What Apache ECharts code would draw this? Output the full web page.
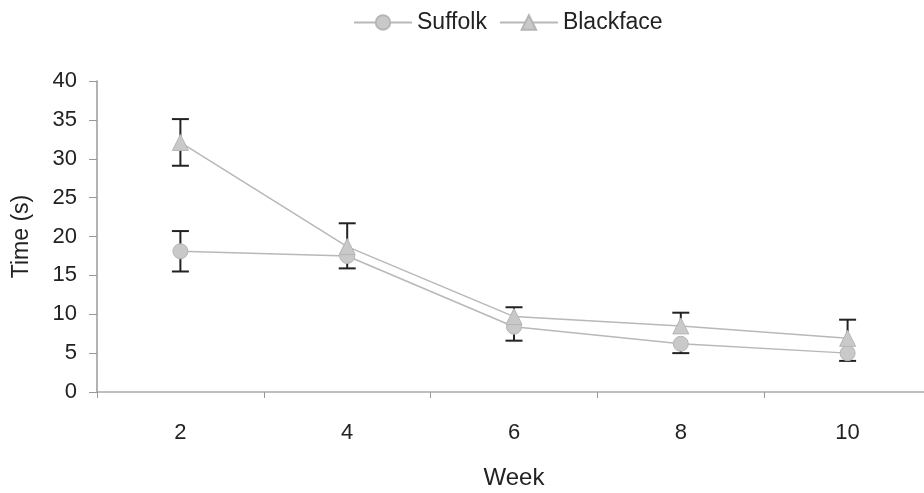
<!DOCTYPE html>
<html>
<head>
<meta charset="utf-8">
<script src="https://cdn.jsdelivr.net/npm/echarts@6/dist/echarts.min.js"></script>
<style>html,body{margin:0;padding:0;background:#fff;}#c{width:924px;height:493px;}</style>
</head>
<body>
<div id="c"></div>
<script>
const weeks = ['2', '4', '6', '8', '10'];
const suffolk = [18.1, 17.5, 8.4, 6.2, 5.0];
// visible error bar extents (null = hidden behind markers in the reference)
const suffolkErrUp = [2.6, null, null, null, null];
const suffolkErrDown = [2.6, 1.6, 1.8, 1.2, 1.0];
const blackface = [32.1, 18.7, 9.7, 8.5, 6.9];
const blackfaceErrUp = [3.0, 3.0, 1.2, 1.7, 2.4];
const blackfaceErrDown = [3.0, null, null, null, null];
const yTicks = [0, 5, 10, 15, 20, 25, 30, 35, 40];

const FONT = '"Liberation Sans", Arial, sans-serif';
const chart = echarts.init(document.getElementById('c'));

function errData(means, up, down) {
  return means.map((m, i) => [i, m, up[i] == null ? -1 : up[i], down[i] == null ? -1 : down[i]]);
}
function renderErr(params, api) {
  const i = api.value(0), m = api.value(1), eu = api.value(2), ed = api.value(3);
  const hw = 8.5;
  const style = { stroke: '#222', lineWidth: 2 };
  const center = api.coord([i, m]);
  const children = [];
  if (eu >= 0) {
    const top = api.coord([i, m + eu]);
    children.push({ type: 'line', shape: { x1: top[0], y1: top[1], x2: center[0], y2: center[1] }, style });
    children.push({ type: 'line', shape: { x1: top[0] - hw, y1: top[1], x2: top[0] + hw, y2: top[1] }, style });
  }
  if (ed >= 0) {
    const bot = api.coord([i, m - ed]);
    children.push({ type: 'line', shape: { x1: bot[0], y1: bot[1], x2: center[0], y2: center[1] }, style });
    children.push({ type: 'line', shape: { x1: bot[0] - hw, y1: bot[1], x2: bot[0] + hw, y2: bot[1] }, style });
  }
  return { type: 'group', children };
}

chart.setOption({
  animation: false,
  backgroundColor: '#fff',
  legend: {
    data: ['Suffolk', 'Blackface'],
    left: 348, top: 6,
    itemWidth: 58, itemHeight: 18, itemGap: 12,
    textStyle: { fontFamily: FONT, fontSize: 23, color: '#222' }
  },
  grid: { left: 97, top: 81, width: 834, height: 311, outerBoundsMode: 'none' },
  xAxis: {
    type: 'category',
    data: weeks,
    boundaryGap: true,
    name: 'Week',
    nameLocation: 'middle',
    nameGap: 74,
    nameTextStyle: { fontFamily: FONT, fontSize: 24, color: '#222' },
    axisLine: { lineStyle: { color: '#aaa', width: 1.5 } },
    axisTick: { show: true, length: 6, lineStyle: { color: '#999' } },
    axisLabel: { fontFamily: FONT, fontSize: 22, color: '#222', margin: 30 },
    splitLine: { show: false }
  },
  yAxis: {
    type: 'value',
    min: yTicks[0], max: yTicks[yTicks.length - 1], interval: 5,
    name: 'Time (s)',
    nameLocation: 'middle',
    nameRotate: 90,
    nameGap: 64,
    nameTextStyle: { fontFamily: FONT, fontSize: 23, color: '#222' },
    axisLine: { show: true, lineStyle: { color: '#999', width: 1.5 } },
    axisTick: { show: true, length: 8, lineStyle: { color: '#999' } },
    axisLabel: { fontFamily: FONT, fontSize: 22, color: '#222', margin: 20 },
    splitLine: { show: false }
  },
  series: [
    {
      name: 'errS', type: 'custom', z: 1,
      data: errData(suffolk, suffolkErrUp, suffolkErrDown),
      encode: { x: 0, y: 1 },
      renderItem: renderErr, silent: true
    },
    {
      name: 'errB', type: 'custom', z: 1,
      data: errData(blackface, blackfaceErrUp, blackfaceErrDown),
      encode: { x: 0, y: 1 },
      renderItem: renderErr, silent: true
    },
    {
      name: 'Suffolk', type: 'line', z: 3,
      data: suffolk,
      symbol: 'circle', symbolSize: 15,
      lineStyle: { color: '#b8b8b8', width: 1.5 },
      itemStyle: { color: '#c9c9c9', borderColor: '#b5b5b5', borderWidth: 1 }
    },
    {
      name: 'Blackface', type: 'line', z: 3,
      data: blackface,
      symbol: 'triangle', symbolSize: 16,
      lineStyle: { color: '#b8b8b8', width: 1.5 },
      itemStyle: { color: '#c9c9c9', borderColor: '#b5b5b5', borderWidth: 1 }
    }
  ]
});
</script>
</body>
</html>
